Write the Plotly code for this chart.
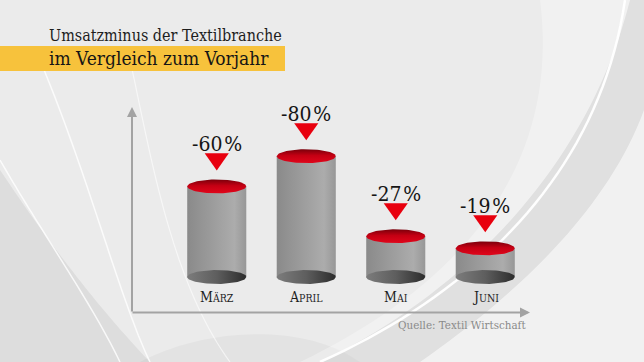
import numpy as np
import plotly.graph_objects as go

# ---------------- data ----------------
categories = ["März", "April", "Mai", "Juni"]
values = [-60, -80, -27, -19]          # Umsatzveränderung in %
title_line1 = "Umsatzminus der Textilbranche"
title_line2 = "im Vergleich zum Vorjahr"
source_text = "Quelle: Textil Wirtschaft"

# ---------------- geometry / style ----------------
W, H = 644, 362
X0_PX, X1_PX = 172.0, 530.0
Y_ZERO_PX = 277.0
PX_PER_UNIT = 1.51
Y_LO = -(H - Y_ZERO_PX) / PX_PER_UNIT
Y_HI = Y_ZERO_PX / PX_PER_UNIT

RX = 0.33      # cylinder half width (category units)
RY = 4.6       # ellipse half height (value units)
SERIF = "DejaVu Serif Condensed, DejaVu Serif"


def px(x):
    return x / W


def py(y):
    return 1 - y / H


def ppath(points, close=True):
    s = "M " + " L ".join(f"{px(a):.4f},{py(b):.4f}" for a, b in points)
    return s + (" Z" if close else "")


def bez(p0, p1, p2, p3, n=40):
    t = np.linspace(0, 1, n)[:, None]
    p0, p1, p2, p3 = map(np.array, (p0, p1, p2, p3))
    pts = (1 - t) ** 3 * p0 + 3 * (1 - t) ** 2 * t * p1 + 3 * (1 - t) * t ** 2 * p2 + t ** 3 * p3
    return [tuple(p) for p in pts]


fig = go.Figure()

heights = [abs(v) for v in values]
theta = np.linspace(0, 2 * np.pi, 80)

for i, h in enumerate(heights):
    # body
    fig.add_trace(go.Scatter(
        x=[i - RX, i + RX, i + RX, i - RX, i - RX],
        y=[0, 0, h, h, 0],
        fill="toself", mode="lines", line=dict(width=0),
        fillgradient=dict(type="horizontal",
                          colorscale=[[0, "#8a8a8a"], [0.4, "#9b9b9b"],
                                      [0.8, "#acacac"], [1, "#979797"]]),
        hoverinfo="skip", showlegend=False))
    # bottom ellipse
    fig.add_trace(go.Scatter(
        x=i + RX * np.cos(theta), y=0 + RY * np.sin(theta),
        fill="toself", mode="lines", line=dict(width=0),
        fillgradient=dict(type="horizontal",
                          colorscale=[[0, "#7c7c7c"], [0.5, "#5e5e5e"], [1, "#2c2c2c"]]),
        hoverinfo="skip", showlegend=False))
    # top ellipse
    fig.add_trace(go.Scatter(
        x=i + RX * np.cos(theta), y=h + RY * np.sin(theta),
        fill="toself", mode="lines", line=dict(width=0),
        fillgradient=dict(type="vertical",
                          colorscale=[[0, "#e0061b"], [0.55, "#c40013"], [1, "#7a000b"]]),
        hoverinfo="skip", showlegend=False))
    # red triangle marker
    fig.add_trace(go.Scatter(
        x=[i - 0.135, i + 0.135, i, i - 0.135],
        y=[h + 21.9, h + 21.9, h + 10.6, h + 21.9],
        fill="toself", mode="lines", line=dict(width=0), fillcolor="#e8000e",
        hoverinfo="skip", showlegend=False))

annotations = []
for i, (c, v) in enumerate(zip(categories, values)):
    h = abs(v)
    annotations.append(dict(
        x=i, y=h + 28, xref="x", yref="y", showarrow=False,
        text=f"{v}<span style='font-size:6px'> </span>%",
        font=dict(family=SERIF, size=21, color="#151515"),
        xanchor="center", yanchor="middle"))
    annotations.append(dict(
        x=i, y=-13.3, xref="x", yref="y", showarrow=False,
        text=f"{c[0]}<span style='font-size:10.5px'>{c[1:].upper()}</span>",
        font=dict(family=SERIF, size=14, color="#1e1e1e"),
        xanchor="center", yanchor="middle"))

# axis arrows
annotations.append(dict(x=px(132), y=py(107), xref="paper", yref="paper",
                        ax=0, ay=206, axref="pixel", ayref="pixel",
                        showarrow=True, arrowhead=2, arrowsize=1.0,
                        arrowwidth=2, arrowcolor="#a3a3a3", text=""))
annotations.append(dict(x=px(530), y=py(312.5), xref="paper", yref="paper",
                        ax=-399, ay=0, axref="pixel", ayref="pixel",
                        showarrow=True, arrowhead=2, arrowsize=1.0,
                        arrowwidth=2, arrowcolor="#a3a3a3", text=""))

# titles and source
annotations.append(dict(x=px(47), y=py(35.5), xref="paper", yref="paper",
                        showarrow=False, text=title_line1, xanchor="left",
                        yanchor="middle",
                        font=dict(family=SERIF, size=16, color="#1e1e1e")))
annotations.append(dict(x=px(47), y=py(58), xref="paper", yref="paper",
                        showarrow=False, text=title_line2, xanchor="left",
                        yanchor="middle",
                        font=dict(family=SERIF, size=19, color="#151515")))
annotations.append(dict(x=px(528), y=py(325), xref="paper", yref="paper",
                        showarrow=False, text=source_text, xanchor="right",
                        yanchor="middle",
                        font=dict(family=SERIF, size=11.5, color="#8a8a8a")))

shapes = []
# background swooshes
shapes.append(dict(type="path", xref="paper", yref="paper", layer="below",
                   path=ppath([(0, 362)] + bez((0, 170), (60, 260), (110, 320), (150, 362))),
                   fillcolor="rgba(0,0,0,0.06)", line=dict(width=0)))
shapes.append(dict(type="path", xref="paper", yref="paper", layer="below",
                   path=ppath([(140, 362)] + bez((140, 362), (200, 330), (300, 320), (360, 362))),
                   fillcolor="rgba(0,0,0,0.03)", line=dict(width=0)))
shapes.append(dict(type="path", xref="paper", yref="paper", layer="below",
                   path=ppath([(644, 0), (540, 0)] + bez((540, 0), (560, 160), (470, 280), (300, 362))
                              + [(644, 362)]),
                   fillcolor="rgba(255,255,255,0.3)", line=dict(width=0)))
shapes.append(dict(type="path", xref="paper", yref="paper", layer="below",
                   path=ppath(bez((644, 110), (600, 230), (480, 320), (420, 362)) + [(320, 362)]
                              + bez((320, 362), (470, 290), (590, 160), (630, 0))[1:] + [(644, 0)]),
                   fillcolor="rgba(0,0,0,0.07)", line=dict(width=0)))
shapes.append(dict(type="path", xref="paper", yref="paper", layer="below",
                   path=ppath(bez((625, 0), (600, 170), (480, 290), (320, 362)), close=False),
                   line=dict(color="rgba(255,255,255,0.95)", width=2.5)))
shapes.append(dict(type="path", xref="paper", yref="paper", layer="below",
                   path=ppath(bez((40, 60), (90, 180), (120, 300), (150, 362)), close=False),
                   line=dict(color="rgba(255,255,255,0.8)", width=1.5)))
shapes.append(dict(type="path", xref="paper", yref="paper", layer="below",
                   path=ppath(bez((0, 160), (40, 230), (90, 300), (120, 362)), close=False),
                   line=dict(color="rgba(255,255,255,0.8)", width=1.5)))
shapes.append(dict(type="path", xref="paper", yref="paper", layer="below",
                   path=ppath(bez((130, 60), (150, 150), (170, 280), (230, 362)), close=False),
                   line=dict(color="rgba(255,255,255,0.6)", width=1.2)))
# yellow title band
shapes.append(dict(type="rect", xref="paper", yref="paper", layer="below",
                   x0=0, x1=px(285), y0=py(71), y1=py(46),
                   fillcolor="#f7c23c", line=dict(width=0)))

fig.update_layout(
    width=W, height=H,
    margin=dict(l=0, r=0, t=0, b=0),
    paper_bgcolor="#ebebeb", plot_bgcolor="rgba(0,0,0,0)",
    xaxis=dict(range=[-0.5, len(categories) - 0.5], domain=[px(X0_PX), px(X1_PX)],
               visible=False, fixedrange=True),
    yaxis=dict(range=[Y_LO, Y_HI], domain=[0, 1], visible=False, fixedrange=True),
    annotations=annotations, shapes=shapes, showlegend=False,
)

fig.write_html("out.html",
               config={"displayModeBar": False},
               post_script="document.body.style.margin='0';"
                           "document.body.style.overflow='hidden';")
